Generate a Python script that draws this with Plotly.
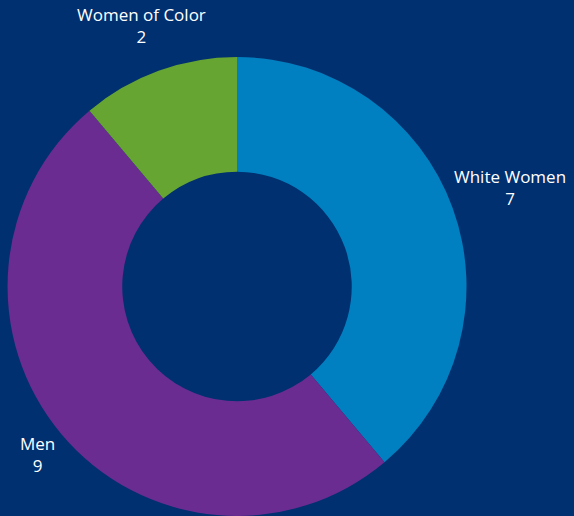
import math
import plotly.graph_objects as go

# Representation counts by group
categories = ["White Women", "Men", "Women of Color"]
counts = [7, 9, 2]
slice_colors = ["#0080C0", "#6A2C91", "#66A532"]

BG = "#003070"
W, H = 574, 516
FONT_SIZE = 17

# Donut placement (pixels): centre and outer radius
CX, CY, R = 237, 287, 230
dom_x = [(CX - R) / W, (CX + R) / W]
dom_y = [max(0.0, (H - CY - R) / H), (H - CY + R) / H]

fig = go.Figure(
    go.Pie(
        labels=categories,
        values=counts,
        hole=0.5,
        sort=False,
        direction="clockwise",
        rotation=0,
        marker=dict(colors=slice_colors, line=dict(width=0)),
        textinfo="none",
        hoverinfo="label+value",
        showlegend=False,
        domain=dict(x=dom_x, y=dom_y),
    )
)

# Outside labels placed along each slice's mid-angle, pushed out by the
# approximate half-extent of the two-line text block.
total = sum(counts)
start = 0.0
annotations = []
for name, val in zip(categories, counts):
    mid = start + val / total * 180.0
    start += val / total * 360.0
    a = math.radians(mid)
    s, c = math.sin(a), math.cos(a)
    tw = len(name) * 0.55 * FONT_SIZE
    th = 2 * 1.3 * FONT_SIZE
    d = R + 5 + abs(s) * tw / 2 + abs(c) * th / 2
    px = CX + s * d
    py = CY - c * d
    annotations.append(
        dict(
            x=px / W,
            y=1 - py / H,
            xref="paper",
            yref="paper",
            xanchor="center",
            yanchor="middle",
            text=f"{name}<br>{val}",
            showarrow=False,
            font=dict(color="white", size=FONT_SIZE, family="Open Sans"),
        )
    )

fig.update_layout(
    width=W,
    height=H,
    margin=dict(l=0, r=0, t=0, b=0),
    paper_bgcolor=BG,
    plot_bgcolor=BG,
    font=dict(family="Open Sans", color="white"),
    annotations=annotations,
)

fig.write_html("out.html")
